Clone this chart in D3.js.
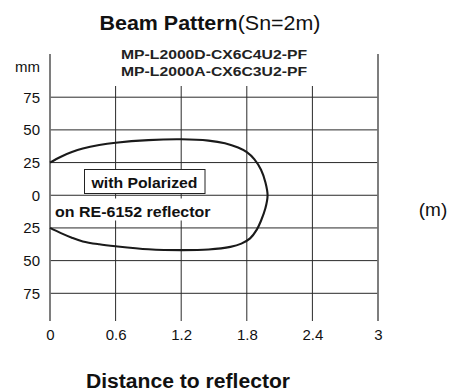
<!DOCTYPE html>
<html><head><meta charset="utf-8">
<script src="https://cdn.jsdelivr.net/npm/d3@7"></script>
<style>body{margin:0;background:#fff;}svg{display:block;font-family:"Liberation Sans",Arial,sans-serif;}</style>
</head><body>
<script>
const xTicks = [0, 0.6, 1.2, 1.8, 2.4, 3];
const xTickLabels = ["0", "0.6", "1.2", "1.8", "2.4", "3"];
const yTicks = [75, 50, 25, 0, -25, -50, -75];
const yTickLabels = ["75", "50", "25", "0", "25", "50", "75"];
// beam outline: upper edge (left to right), then lower edge (right to left)
const upperDist = [0, 0.1, 0.2, 0.3, 0.45, 0.6, 0.9, 1.2, 1.45, 1.6, 1.72, 1.8, 1.87, 1.93, 1.97, 1.99];
const upperWidth = [25, 29.5, 33, 35.7, 38.4, 40.2, 42.2, 42.8, 41.8, 39.8, 36.5, 33, 27.5, 19.5, 10, 0];
const lowerDist = [1.97, 1.93, 1.89, 1.83, 1.75, 1.65, 1.45, 1.2, 0.9, 0.6, 0.45, 0.3, 0.2, 0.1, 0];
const lowerWidth = [-10, -19.5, -26.5, -33, -37, -39.5, -41.5, -42, -41.3, -39, -37.5, -35.3, -32.5, -29, -25];

const W = 454, H = 392;
const svg = d3.select("body").append("svg").attr("width", W).attr("height", H);
const x = d3.scaleLinear().domain([0, 3]).range([50, 378]);
const y = d3.scaleLinear().domain([-75, 75]).range([293.3, 97.2]);
const gridTop = 86, axisTop = 54, bottom = 321;

// horizontal grid
svg.append("g").selectAll("line").data(yTicks).join("line")
  .attr("x1", x(0)).attr("x2", x(3))
  .attr("y1", d => y(d)).attr("y2", d => y(d))
  .attr("stroke", "#2a2a2a").attr("stroke-width", 1);
// vertical grid
svg.append("g").selectAll("line").data(xTicks).join("line")
  .attr("x1", d => x(d)).attr("x2", d => x(d))
  .attr("y1", (d, i) => (i === 0 || i === xTicks.length - 1) ? axisTop : gridTop)
  .attr("y2", bottom)
  .attr("stroke", (d, i) => (i === 0 || i === xTicks.length - 1) ? "#707070" : "#2a2a2a")
  .attr("stroke-width", (d, i) => (i === 0 || i === xTicks.length - 1) ? 1.8 : 1);

// axes labels
const yAxis = d3.axisLeft(y).tickValues(yTicks).tickSize(0).tickPadding(10)
  .tickFormat((d, i) => yTickLabels[i]);
const gy = svg.append("g").attr("transform", `translate(${x(0)},0)`).call(yAxis);
gy.select(".domain").remove();
gy.selectAll("text").attr("font-size", 15).attr("font-family", "Liberation Sans, Arial, sans-serif").attr("fill", "#111");

const xAxis = d3.axisBottom(x).tickValues(xTicks).tickSize(0).tickPadding(8)
  .tickFormat((d, i) => xTickLabels[i]);
const gx = svg.append("g").attr("transform", `translate(0,${bottom})`).call(xAxis);
gx.select(".domain").remove();
gx.selectAll("text").attr("font-size", 15).attr("font-family", "Liberation Sans, Arial, sans-serif").attr("fill", "#111");

// beam curve
const pts = upperDist.map((d, i) => [d, upperWidth[i]])
  .concat(lowerDist.map((d, i) => [d, lowerWidth[i]]));
svg.append("path")
  .attr("d", d3.line().x(d => x(d[0])).y(d => y(d[1])).curve(d3.curveCatmullRom.alpha(0.5))(pts))
  .attr("fill", "none").attr("stroke", "#1a1a1a").attr("stroke-width", 2.1);

// annotations
svg.append("rect").attr("x", 84.5).attr("y", 169.5).attr("width", 120.5).attr("height", 24)
  .attr("fill", "#fff").attr("stroke", "#222").attr("stroke-width", 1);
svg.append("text").attr("x", 91.5).attr("y", 187.7).attr("font-size", 14).attr("font-weight", "bold")
  .attr("textLength", 106).attr("lengthAdjust", "spacingAndGlyphs").attr("fill", "#111").text("with Polarized");
svg.append("rect").attr("x", 52).attr("y", 198.5).attr("width", 162).attr("height", 22).attr("fill", "#fff");
svg.append("text").attr("x", 55).attr("y", 216.8).attr("font-size", 14).attr("font-weight", "bold")
  .attr("textLength", 155.5).attr("lengthAdjust", "spacingAndGlyphs").attr("fill", "#111").text("on RE-6152 reflector");

// titles
const t = svg.append("text").attr("x", 99.5).attr("y", 29.5).attr("font-size", 21).attr("fill", "#111")
  .attr("textLength", 221).attr("lengthAdjust", "spacingAndGlyphs");
t.append("tspan").attr("font-weight", "bold").text("Beam Pattern");
t.append("tspan").text("(Sn=2m)");

svg.append("text").attr("x", 121).attr("y", 59).attr("font-size", 13).attr("font-weight", "bold")
  .attr("textLength", 186).attr("lengthAdjust", "spacingAndGlyphs").attr("fill", "#222").text("MP-L2000D-CX6C4U2-PF");
svg.append("text").attr("x", 121).attr("y", 75.5).attr("font-size", 13).attr("font-weight", "bold")
  .attr("textLength", 186).attr("lengthAdjust", "spacingAndGlyphs").attr("fill", "#222").text("MP-L2000A-CX6C3U2-PF");

svg.append("text").attr("x", 40).attr("y", 71.5).attr("text-anchor", "end").attr("font-size", 15).attr("fill", "#111").text("mm");
svg.append("text").attr("x", 433).attr("y", 216).attr("text-anchor", "middle").attr("font-size", 19).attr("fill", "#111").text("(m)");
svg.append("text").attr("x", 86).attr("y", 387.5).attr("font-size", 20).attr("font-weight", "bold")
  .attr("textLength", 204).attr("lengthAdjust", "spacingAndGlyphs").attr("fill", "#111").text("Distance to reflector");
</script>
</body></html>
